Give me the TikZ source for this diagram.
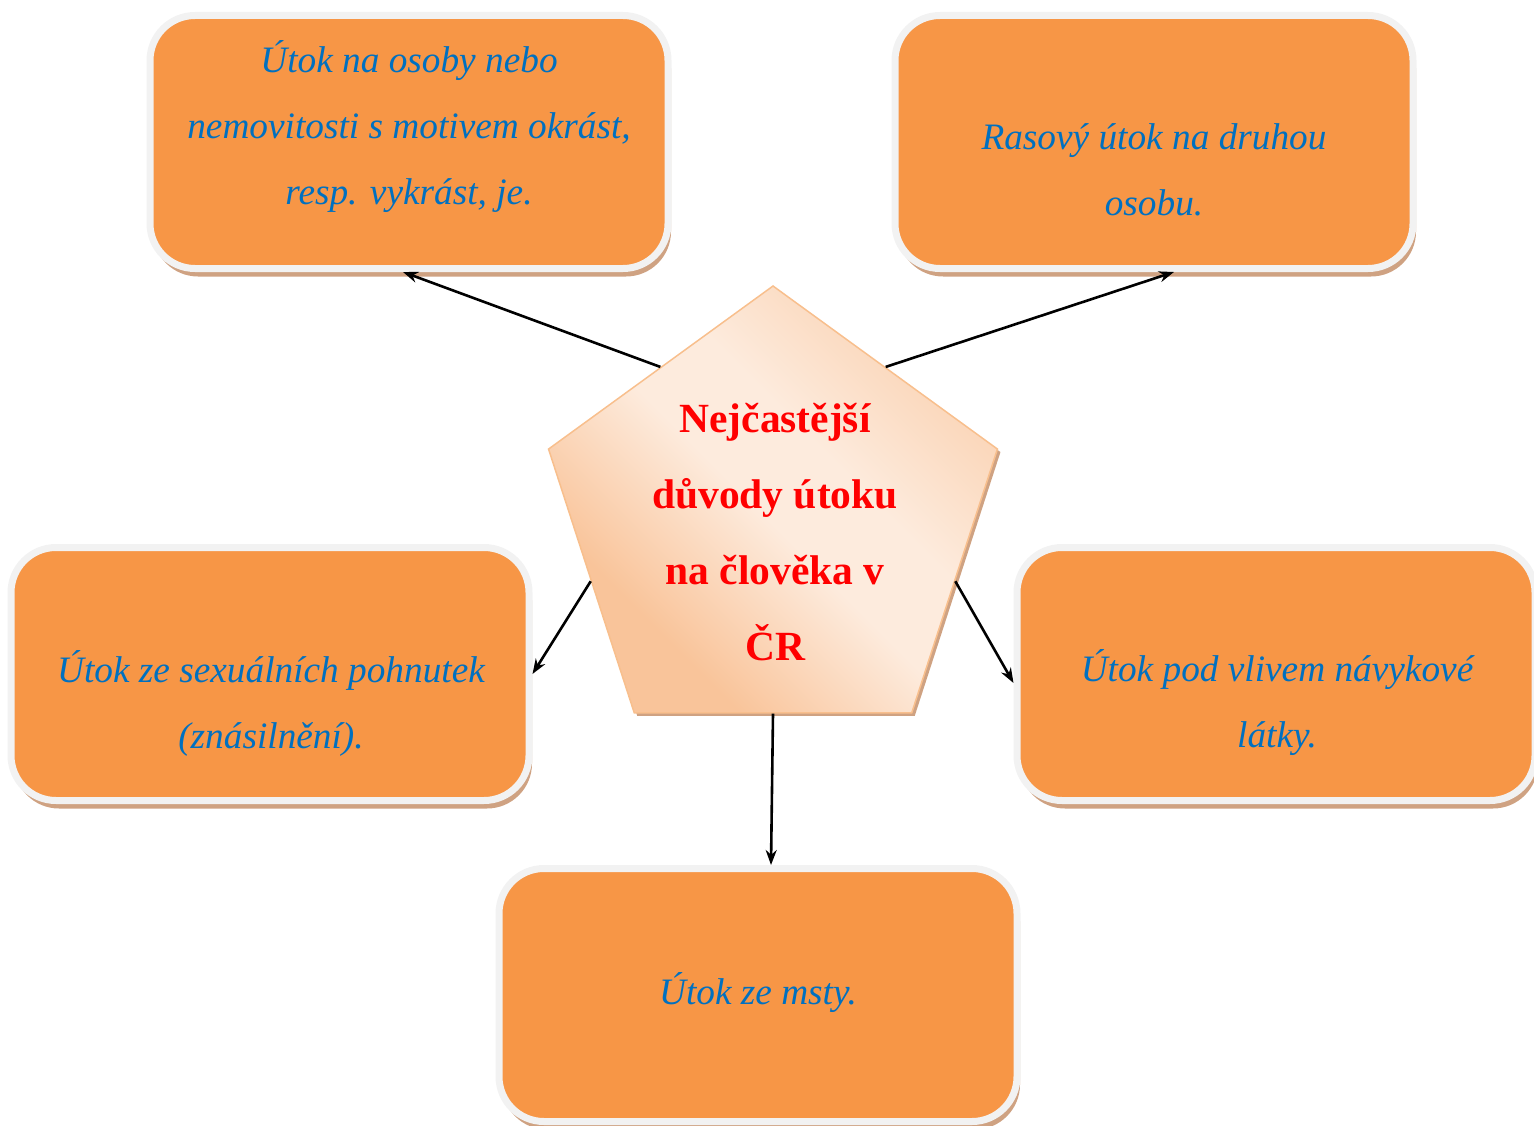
\documentclass[tikz,border=0pt]{standalone}
\usepackage{fontspec}
\setmainfont{Liberation Serif}
\usetikzlibrary{shapes.geometric,shadows,arrows.meta}

\definecolor{boxfill}{HTML}{F79646}
\definecolor{boxrim}{HTML}{F2F2F2}
\definecolor{boxshade}{HTML}{CFA282}
\definecolor{txtblue}{HTML}{0070C0}
\definecolor{peachdark}{HTML}{F9C49A}
\definecolor{peachlight}{HTML}{FDEBDD}
\definecolor{peachmid}{HTML}{FAD3B4}
\definecolor{peachrim}{HTML}{F8BF8D}
\pgfdeclarehorizontalshading{peachy}{100bp}{color(0bp)=(peachdark); color(30bp)=(peachdark); color(48bp)=(peachlight); color(58bp)=(peachlight); color(75bp)=(peachmid); color(100bp)=(peachmid)}

\tikzset{
    reason/.style={rectangle, rounded corners=45pt, draw=boxrim, line width=7pt,
        fill=boxfill, minimum width=518pt, minimum height=253pt, inner sep=0pt,
        drop shadow={shadow xshift=3pt, shadow yshift=-8pt, fill=boxshade, opacity=1}},
    reasontext/.style={font=\fontsize{37.3}{66}\selectfont\itshape, text=txtblue, align=center},
    core/.style={regular polygon, regular polygon sides=5, minimum size=472pt,
        draw=peachrim, line width=1.5pt, shading=peachy, shading angle=45, inner sep=0pt,
        drop shadow={shadow xshift=3pt, shadow yshift=-3pt, fill=boxshade, opacity=1}},
    coretext/.style={font=\fontsize{41.5}{76}\selectfont\bfseries, text=red, align=center},
    link/.style={-{Stealth[length=15pt,width=11pt]}, line width=2.6pt}
}

\begin{document}
\begin{tikzpicture}[x=1pt, y=-1pt]
    \useasboundingbox (0,0) rectangle (1534,1126);

    % the five reasons
    \node[reason] (b1) at (409,142) {};
    \node[reason] (b2) at (1154,142) {};
    \node[reason] (b3) at (270,674) {};
    \node[reason] (b4) at (1276,674) {};
    \node[reason] (b5) at (758,995) {};

    \node[reasontext] (t1) at (409,127) {Útok na osoby nebo\\nemovitosti s motivem okrást,\\resp. vykrást, je.};
    \node[reasontext] (t2) at (1154,170) {Rasový útok na druhou\\osobu.};
    \node[reasontext] (t3) at (271,703) {Útok ze sexuálních pohnutek\\(znásilnění).};
    \node[reasontext] (t4) at (1277,703) {Útok pod vlivem návykové\\látky.};
    \node[reasontext] (t5) at (758,993) {Útok ze msty.};

    % centre
    \node[core] (core) at (773,522) {};
    \node[coretext] (c) at (775,532) {Nejčastější\\důvody útoku\\na člověka v\\ČR};

    \draw[link] (core.side 1) -- ([xshift=-6pt]b1.south);
    \draw[link] (core.side 5) -- ([xshift=20pt]b2.south);
    \draw[link] (core.side 2) -- (b3.east);
    \draw[link] (core.side 4) -- ([yshift=-9pt]b4.west);
    \draw[link] (core.side 3) -- ([xshift=13pt]b5.north);
\end{tikzpicture}
\end{document}
